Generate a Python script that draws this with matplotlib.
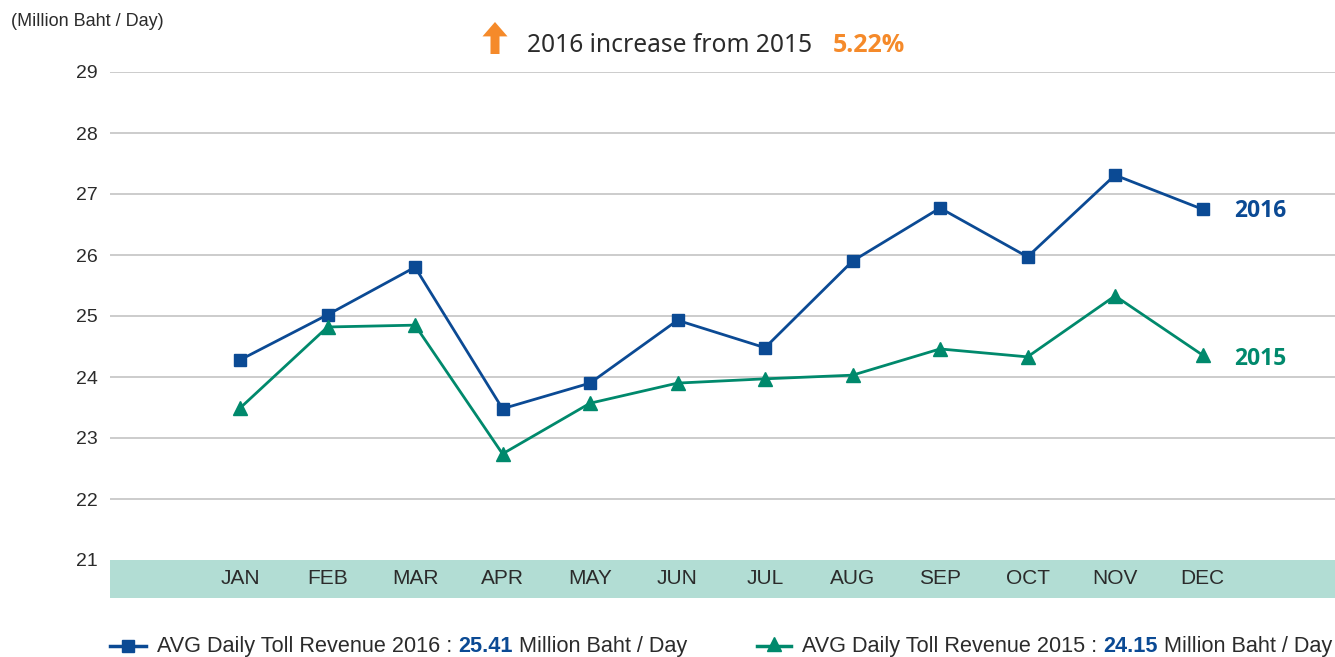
import matplotlib
matplotlib.use("Agg")
import matplotlib.pyplot as plt
from matplotlib.lines import Line2D
from matplotlib.patches import FancyArrow
import warnings
warnings.filterwarnings("ignore")

months = ["JAN", "FEB", "MAR", "APR", "MAY", "JUN", "JUL", "AUG", "SEP", "OCT", "NOV", "DEC"]
rev_2016 = [24.28, 25.02, 25.80, 23.48, 23.90, 24.93, 24.48, 25.90, 26.77, 25.97, 27.31, 26.75]
rev_2015 = [23.49, 24.82, 24.85, 22.74, 23.57, 23.90, 23.97, 24.03, 24.46, 24.33, 25.33, 24.36]
y_ticks = [21, 22, 23, 24, 25, 26, 27, 28, 29]
avg_2016 = "25.41"
avg_2015 = "24.15"
increase = "5.22%"

C16 = "#0b4a94"
C15 = "#00896c"
BAND = "#b2ddd4"
ORANGE = "#f58a2a"
TXT = "#2b2b2b"

W, H = 1335, 657
fig = plt.figure(figsize=(W / 100, H / 100), dpi=100)

def fx(px):
    return px / W

def fy(py):
    return 1 - py / H

SANS = ["Liberation Sans", "DejaVu Sans"]
ROUND = ["Open Sans", "DejaVu Sans"]

band_bottom = 21 - 38 / 61.0
ax = fig.add_axes([fx(110), fy(598), fx(1335) - fx(110), fy(72) - fy(598)])
ax.set_xlim(-1.486, 12.514)
ax.set_ylim(band_bottom, 29)
for s in ax.spines.values():
    s.set_visible(False)

ax.axhspan(band_bottom, 21, color=BAND, zorder=0, lw=0)
for v in y_ticks[1:]:
    ax.axhline(v, color="#c8c8c8", lw=1.3, zorder=1)

ax.set_yticks(y_ticks)
ax.set_yticklabels([str(v) for v in y_ticks], fontsize=14, color=TXT, family=SANS)
ax.tick_params(axis="y", length=0, pad=9)
ax.set_xticks([])

x = list(range(len(months)))
for i, m in enumerate(months):
    ax.text(i, (band_bottom + 21) / 2, m, ha="center", va="center", fontsize=15,
            color=TXT, family=SANS)

ax.plot(x, rev_2016, color=C16, lw=2, marker="s", ms=8.5, zorder=3, clip_on=False)
ax.plot(x, rev_2015, color=C15, lw=2, marker="^", ms=9.5, zorder=3, clip_on=False)

ax.annotate("2016", xy=(x[-1], rev_2016[-1]), xytext=(23, -1.5), textcoords="offset points",
            va="center", ha="left", fontsize=16.5, fontweight="bold", color=C16, family=ROUND)
ax.annotate("2015", xy=(x[-1], rev_2015[-1]), xytext=(23, -3), textcoords="offset points",
            va="center", ha="left", fontsize=16.5, fontweight="bold", color=C15, family=ROUND)

# unit label
fig.text(fx(11), fy(22), "(Million Baht / Day)", fontsize=13, color=TXT, va="center", ha="left",
         family=SANS)

# title with arrow
arr = FancyArrow(fx(495), fy(54), 0, fy(22) - fy(54), width=fx(9), head_width=fx(25),
                 head_length=(fy(22) - fy(54)) * 0.45, length_includes_head=True,
                 color=ORANGE, transform=fig.transFigure, lw=0)
fig.patches.append(arr)
fig.text(fx(527), fy(46), "2016 increase from 2015", fontsize=17.7, color=TXT, va="center", ha="left",
         family=["Noto Sans", "DejaVu Sans"])
fig.text(fx(833), fy(46), increase, fontsize=18, color=ORANGE, va="center", ha="left",
         fontweight="bold", family=ROUND)

# legend
LY = 646
fig.add_artist(Line2D([fx(110), fx(146)], [fy(LY), fy(LY)], color=C16, lw=2.5,
                      transform=fig.transFigure))
fig.add_artist(Line2D([fx(128)], [fy(LY)], color=C16, marker="s", ms=8.5, transform=fig.transFigure))
fig.add_artist(Line2D([fx(757), fx(791)], [fy(LY), fy(LY)], color=C15, lw=2.5,
                      transform=fig.transFigure))
fig.add_artist(Line2D([fx(774)], [fy(LY - 2)], color=C15, marker="^", ms=9.5, transform=fig.transFigure))

BASE = 652
renderer = fig.canvas.get_renderer()

def legend_line(x0, year, avg):
    parts = [(f"AVG Daily Toll Revenue {year} : ", TXT, "normal"),
             (avg, C16, "bold"),
             (" Million Baht / Day", TXT, "normal")]
    xpos = x0
    for s, c, w in parts:
        t = fig.text(fx(xpos), fy(BASE), s, color=c, fontweight=w, fontsize=15.6,
                     va="baseline", ha="left", family=SANS)
        bb = t.get_window_extent(renderer=renderer)
        xpos = bb.x1

legend_line(157, "2016", avg_2016)
legend_line(802, "2015", avg_2015)

fig.savefig("out.png", dpi=100)
